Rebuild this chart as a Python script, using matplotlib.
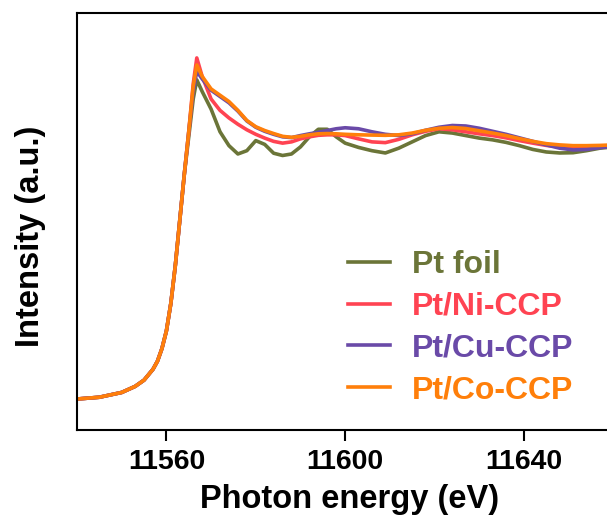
import matplotlib
matplotlib.use("Agg")
import matplotlib.pyplot as plt

plt.rcParams['font.family'] = ['Liberation Sans', 'DejaVu Sans']
plt.rcParams['font.weight'] = 'bold'

energy = [11540, 11545, 11550, 11553, 11555, 11557, 11558, 11559, 11560, 11561,
          11562, 11563, 11564, 11565, 11566, 11566.8, 11568, 11570, 11572, 11574,
          11576, 11578, 11580, 11582, 11584, 11586, 11588, 11590, 11592, 11594,
          11596, 11598, 11600, 11603, 11606, 11609, 11612, 11615, 11618, 11621,
          11624, 11627, 11630, 11633, 11636, 11639, 11642, 11645, 11648, 11651,
          11654, 11657, 11660]

# rising edge is common to all four spectra
edge = [0.0, 0.007, 0.026, 0.05, 0.075, 0.118, 0.15, 0.2, 0.27, 0.38,
        0.53, 0.71, 0.89]

pt_foil = edge + [1.04, 1.19, 1.266, 1.22, 1.15, 1.06, 1.005,
                  0.972, 0.985, 1.025, 1.01, 0.975, 0.966, 0.972, 1.0, 1.04, 1.07,
                  1.07, 1.04, 1.015, 0.998, 0.985, 0.976, 0.995, 1.02, 1.045, 1.06,
                  1.055, 1.045, 1.035, 1.028, 1.018, 1.005, 0.99, 0.98, 0.976, 0.977,
                  0.985, 0.995, 1.0]

pt_ni = edge + [1.06, 1.25, 1.353, 1.28, 1.19, 1.145, 1.115,
                1.09, 1.068, 1.05, 1.035, 1.022, 1.015, 1.02, 1.032, 1.04, 1.046,
                1.048, 1.048, 1.045, 1.032, 1.02, 1.017, 1.03, 1.048, 1.062, 1.072,
                1.068, 1.06, 1.052, 1.045, 1.036, 1.025, 1.015, 1.006, 1.0, 0.997,
                0.998, 1.0, 1.003]

pt_cu = edge + [1.06, 1.22, 1.30, 1.27, 1.225, 1.2, 1.175,
                1.142, 1.103, 1.078, 1.062, 1.05, 1.04, 1.037, 1.045, 1.052, 1.058,
                1.065, 1.072, 1.076, 1.072, 1.06, 1.05, 1.045, 1.052, 1.066, 1.078,
                1.085, 1.083, 1.074, 1.062, 1.05, 1.036, 1.022, 1.008, 0.995, 0.988,
                0.99, 0.997, 1.003]

pt_co = edge + [1.06, 1.24, 1.325, 1.28, 1.23, 1.205, 1.18,
                1.145, 1.105, 1.08, 1.065, 1.053, 1.042, 1.038, 1.042, 1.048, 1.052,
                1.053, 1.052, 1.05, 1.048, 1.047, 1.046, 1.048, 1.055, 1.066, 1.074,
                1.077, 1.073, 1.064, 1.055, 1.045, 1.033, 1.022, 1.013, 1.008, 1.005,
                1.005, 1.006, 1.008]

labels = ['Pt foil', 'Pt/Ni-CCP', 'Pt/Cu-CCP', 'Pt/Co-CCP']
colors = ['#6b7538', '#ff4352', '#6a4aa8', '#ff7f0a']
series = [pt_foil, pt_ni, pt_cu, pt_co]

fig = plt.figure(figsize=(6.07, 5.22), dpi=100)
ax = fig.add_axes([0.1269, 0.1772, 0.8731, 0.7973])

for y, c, lab in zip(series, colors, labels):
    ax.plot(energy, y, color=c, lw=2.6, label=lab)

ax.set_xlim(11540, 11658.6)
ax.set_ylim(-0.121, 1.53)
ax.set_xticks([11560, 11600, 11640])
ax.set_yticks([])
ax.tick_params(axis='x', direction='out', length=8, width=1.5, labelsize=20.5, pad=6)
for s in ['left', 'bottom', 'top']:
    ax.spines[s].set_linewidth(1.5)
ax.spines['right'].set_visible(False)

ax.set_xlabel('Photon energy (eV)', fontsize=23.5, fontweight='bold', labelpad=7)
ax.xaxis.set_label_coords(0.515, -0.132)
ax.xaxis.label.set_va('top')
ax.set_ylabel('Intensity (a.u.)', fontsize=23.5, fontweight='bold')
ax.yaxis.set_label_coords(-0.058, 0.464)

ax.legend(loc='upper left', bbox_to_anchor=(0.511, 0.4315), frameon=False,
          labelcolor='linecolor', prop={'size': 23, 'weight': 'bold'},
          handlelength=1.31, handletextpad=0.69, labelspacing=0.37,
          borderpad=0, borderaxespad=0)

fig.savefig('out.png', dpi=100)
